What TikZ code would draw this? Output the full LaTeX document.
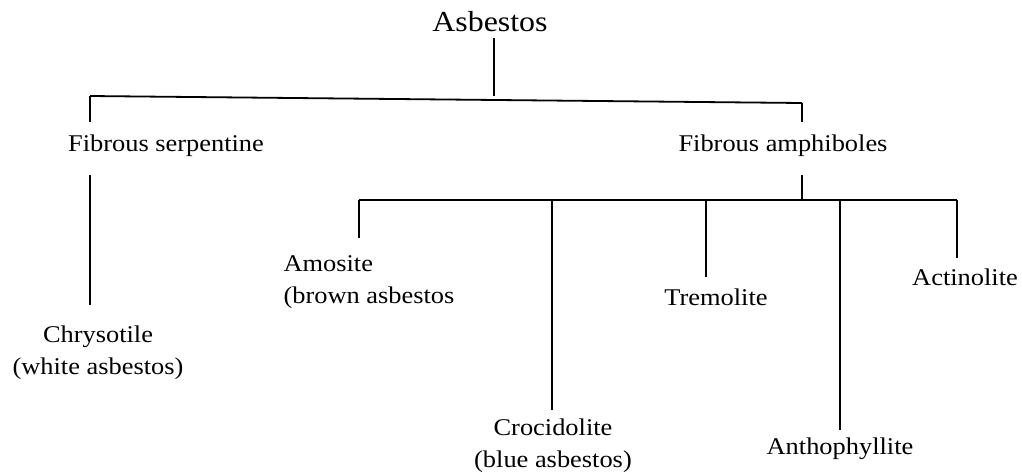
\documentclass[tikz,border=0pt]{standalone}
\usepackage{fontspec}
\setmainfont[FakeStretch=1.1]{Liberation Serif}
\begin{document}
\begin{tikzpicture}[x=1pt, y=-1pt, line width=1.1pt,
    lbl/.style={font=\fontsize{24}{32}\selectfont, align=center, inner sep=0pt},
    bar/.style={line width=1.8pt}]
    \useasboundingbox (0,0) rectangle (1022,475);
    % labels
    \node[lbl, font=\fontsize{29}{32}\selectfont] (asb) at (490,22) {Asbestos};
    \node[lbl] (serp) at (166,146) {Fibrous serpentine};
    \node[lbl] (amph) at (783,146) {Fibrous amphiboles};
    \node[lbl] (chry) at (98,353) {Chrysotile\\(white asbestos)};
    \node[lbl, align=left, anchor=west] (amos) at (283,282) {Amosite\\(brown asbestos};
    \node[lbl] (croc) at (553,446) {Crocidolite\\(blue asbestos)};
    \node[lbl] (trem) at (716,297) {Tremolite};
    \node[lbl] (anth) at (840,449) {Anthophyllite};
    \node[lbl] (acti) at (965,277) {Actinolite};
    % junctions
    \coordinate (j0) at (494,96);
    \coordinate (jl) at (90,96);
    \coordinate (jr) at (802,103);
    \coordinate (j1) at (802,200);
    \coordinate (k1) at (359,200);
    \coordinate (k2) at (552,200);
    \coordinate (k3) at (706,200);
    \coordinate (k4) at (840,200);
    \coordinate (k5) at (957,200);
    % upper level
    \draw (j0 |- asb.south) ++(0,5) -- (j0);
    \draw[bar] (jl) -- (jr);
    \draw (jl) -- (90,122);
    \draw (jr) -- (802,122);
    \draw (jl |- serp.south) ++(0,18) -- (90,305);
    \draw (j1 |- amph.south) ++(0,18) -- (j1);
    % lower level
    \draw[bar] (k1) -- (k5);
    \draw (k1) -- (359,238);
    \draw (k2) -- (552,410);
    \draw (k3) -- (706,277);
    \draw (k4) -- (840,430);
    \draw (k5) -- (957,258);
\end{tikzpicture}
\end{document}
